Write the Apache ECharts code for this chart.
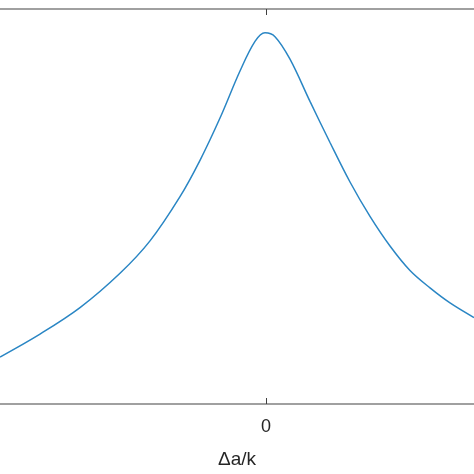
<!DOCTYPE html><html><head><meta charset="utf-8">
<script src="https://cdn.jsdelivr.net/npm/echarts@6/dist/echarts.min.js"></script>
<style>body{margin:0}#c{width:474px;height:474px}</style></head><body><div id="c"></div>
<script>
const xs=[-2.66,-2.26,-1.86,-1.46,-1.16,-0.86,-0.66,-0.46,-0.26,-0.11,-0.01,0.09,0.24,0.44,0.64,0.84,1.04,1.24,1.44,1.64,1.84,2.08];
const ys=[0.119,0.177,0.244,0.331,0.413,0.525,0.617,0.724,0.843,0.918,0.940,0.930,0.873,0.766,0.662,0.562,0.475,0.400,0.338,0.294,0.256,0.219];
const xTicks=[0];
const xName='Δa/k';
const data=xs.map((x,i)=>[x,ys[i]]);
const ax={type:'value',min:-2.66,max:2.08,splitLine:{show:false},axisLine:{show:true,lineStyle:{color:'#808080',width:1.5}},
 axisTick:{show:true,inside:true,length:6,customValues:xTicks,lineStyle:{color:'#404040'}}};
const c=echarts.init(document.getElementById('c'));
c.setOption({animation:false,
 grid:{left:0,right:0,top:9,bottom:63},
 xAxis:[Object.assign({},ax,{position:'bottom',name:xName,nameLocation:'middle',nameGap:46,
   nameTextStyle:{fontSize:19,color:'#262626',fontFamily:'Liberation Sans'},
   axisLabel:{customValues:xTicks,fontSize:18,color:'#262626',margin:14,fontFamily:'Liberation Sans'}}),
  Object.assign({},ax,{position:'top',axisLabel:{show:false}})],
 yAxis:{type:'value',min:0,max:1,show:false},
 series:[{type:'line',data,smooth:0.35,showSymbol:false,lineStyle:{color:'#2a86c4',width:1.5}}]});
</script></body></html>
